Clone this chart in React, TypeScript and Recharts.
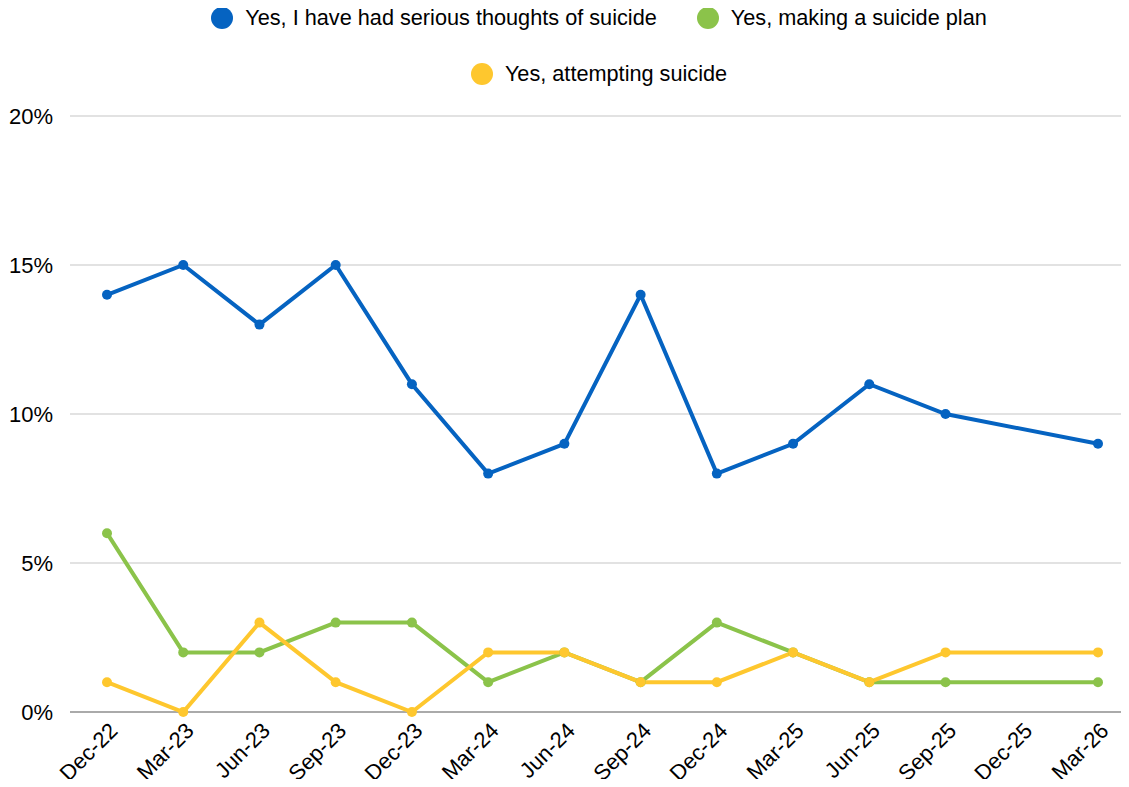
import React from "react";
import { LineChart, Line, XAxis, YAxis, CartesianGrid, ReferenceLine } from "recharts";

const categories = ["Dec-22","Mar-23","Jun-23","Sep-23","Dec-23","Mar-24","Jun-24","Sep-24","Dec-24","Mar-25","Jun-25","Sep-25","Dec-25","Mar-26"];
const thoughts = [14,15,13,15,11,8,9,14,8,9,11,10,null,9];
const plan = [6,2,2,3,3,1,2,1,3,2,1,1,null,1];
const attempt = [1,0,3,1,0,2,2,1,1,2,1,2,null,2];
const yTicks = [0,5,10,15,20];

const seriesNames = ["Yes, I have had serious thoughts of suicide","Yes, making a suicide plan","Yes, attempting suicide"];
const colors = ["#0563c1","#8bc34a","#fec72e"];

const data = categories.map((c, i) => ({ cat: c, thoughts: thoughts[i], plan: plan[i], attempt: attempt[i] }));

const FONT = "'Liberation Sans', Arial, Helvetica, sans-serif";

const XTick = (props: any) => {
  const { x, y, payload } = props;
  return (
    <g transform={`translate(${x + 12},${y + 12})`}>
      <text x={0} y={0} textAnchor="end" transform="rotate(-45)" fontSize={22} fill="#000" fontFamily={FONT}>
        {payload.value}
      </text>
    </g>
  );
};

const LegendItem = ({ color, label }: { color: string; label: string }) => (
  <div style={{ display: "flex", alignItems: "center", margin: "0 20px" }}>
    <span style={{ width: 22, height: 22, borderRadius: 11, background: color, display: "inline-block", marginRight: 12 }} />
    <span style={{ fontSize: 21.7, color: "#000", fontFamily: FONT, whiteSpace: "nowrap" }}>{label}</span>
  </div>
);

export default function App() {
  return (
    <div style={{ position: "relative", width: 1129, height: 787, margin: -8, background: "#fff" }}>
      <div style={{ position: "absolute", left: 70, top: 0, width: 1058 }}>
        <div style={{ display: "flex", justifyContent: "center", height: 36, alignItems: "center" }}>
          <LegendItem color={colors[0]} label={seriesNames[0]} />
          <LegendItem color={colors[1]} label={seriesNames[1]} />
        </div>
        <div style={{ display: "flex", justifyContent: "center", height: 36, alignItems: "center", marginTop: 20 }}>
          <LegendItem color={colors[2]} label={seriesNames[2]} />
        </div>
      </div>
      <LineChart width={1129} height={787} data={data} margin={{ top: 116, right: 1, bottom: 0, left: 0 }}>
        <CartesianGrid vertical={false} stroke="#d9d9d9" strokeWidth={1.3} />
        <XAxis dataKey="cat" type="category" scale="point" padding={{ left: 37, right: 30 }} axisLine={false} tickLine={false} interval={0} height={75} tick={<XTick />} />
        <YAxis domain={[0, 20]} ticks={yTicks} width={70} axisLine={false} tickLine={false} tickSize={0} tickMargin={17} tickFormatter={(v: number) => `${v}%`} tick={{ fontSize: 22, fill: "#000", fontFamily: FONT }} />
        <ReferenceLine y={0} stroke="#aaaaaa" strokeWidth={2} />
        <Line dataKey="thoughts" name={seriesNames[0]} stroke={colors[0]} strokeWidth={4} dot={{ r: 5, fill: colors[0], stroke: colors[0], strokeWidth: 0 }} connectNulls isAnimationActive={false} />
        <Line dataKey="plan" name={seriesNames[1]} stroke={colors[1]} strokeWidth={4} dot={{ r: 5, fill: colors[1], stroke: colors[1], strokeWidth: 0 }} connectNulls isAnimationActive={false} />
        <Line dataKey="attempt" name={seriesNames[2]} stroke={colors[2]} strokeWidth={4} dot={{ r: 5, fill: colors[2], stroke: colors[2], strokeWidth: 0 }} connectNulls isAnimationActive={false} />
      </LineChart>
    </div>
  );
}
